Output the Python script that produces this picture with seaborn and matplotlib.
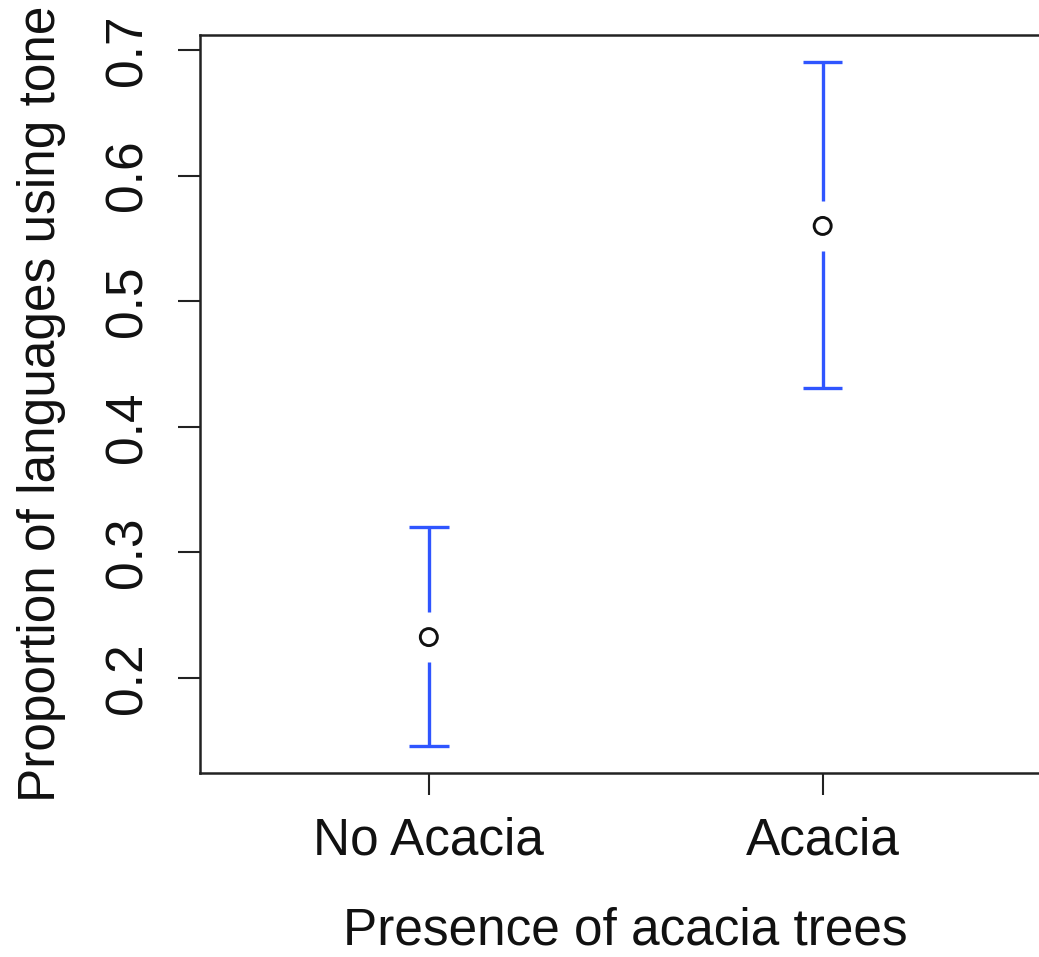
import numpy as np
import pandas as pd
import matplotlib
matplotlib.use("Agg")
import matplotlib.pyplot as plt
import seaborn as sns

# values
groups = ["No Acacia", "Acacia"]
proportion = [0.2326, 0.5599]
ci_lower = [0.1459, 0.4309]
ci_upper = [0.3202, 0.6904]

yticks = [0.2, 0.3, 0.4, 0.5, 0.6, 0.7]

sns.set_style("ticks")
plt.rcParams["font.family"] = ["Liberation Sans", "DejaVu Sans"]

df = pd.DataFrame({"group": groups, "prop": proportion,
                   "lo": ci_lower, "hi": ci_upper})

W, H = 1039, 957
fig = plt.figure(figsize=(W / 100, H / 100), dpi=100)
# plot box: left edge at 200px, top 35px, bottom 773px, right edge beyond the picture
ax = fig.add_axes([200 / W, (H - 773) / H, (1051.5 - 200) / W, (773 - 35) / H])

pos = np.arange(len(groups))
gap = 0.02      # gap around the point, data units
cap = 0.05      # half width of the caps, category units
blue = "#2f55ff"

# error bars with a gap around each point (like plotCI)
ax.vlines(pos, df["prop"] + gap, df["hi"], color=blue, lw=2.4)
ax.vlines(pos, df["lo"], df["prop"] - gap, color=blue, lw=2.4)
ax.hlines(df["hi"], pos - cap, pos + cap, color=blue, lw=2.4)
ax.hlines(df["lo"], pos - cap, pos + cap, color=blue, lw=2.4)

sns.scatterplot(data=df, x="group", y="prop", ax=ax, marker="o",
                s=150, facecolor="none", edgecolor="#111111", linewidth=2.1,
                zorder=3)

ax.set_xlim(-0.581, 1.581)
ax.set_ylim(0.1244, 0.7119)
ax.set_yticks(yticks)
ax.set_yticklabels([f"{t:.1f}" for t in yticks], rotation=90, va="center")
ax.set_xticks(pos)
ax.set_xticklabels(groups)

for side in ["left", "bottom", "top", "right"]:
    ax.spines[side].set_visible(True)
    ax.spines[side].set_linewidth(1.8)
    ax.spines[side].set_color("#222222")

ax.tick_params(axis="both", length=16, width=1.5, color="#222222",
               labelsize=37, labelcolor="#111111")
ax.tick_params(axis="y", pad=18.5)
ax.tick_params(axis="x", pad=15.5)

ax.set_xlabel("Presence of acacia trees", fontsize=37, color="#111111", labelpad=29.5)
ax.set_ylabel("Proportion of languages using tone", fontsize=37, color="#111111",
              labelpad=27)

fig.savefig("out.png", dpi=100)
